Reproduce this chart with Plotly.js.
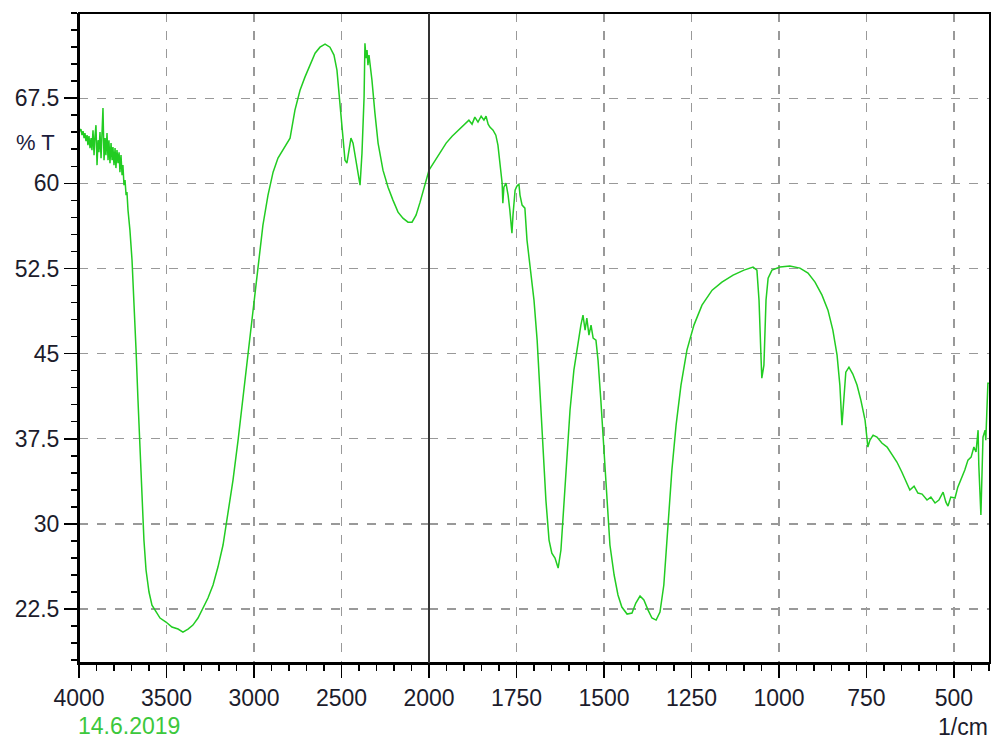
<!DOCTYPE html>
<html>
<head>
<meta charset="utf-8">
<script src="https://cdn.plot.ly/plotly-3.0.1.min.js"></script>
<style>html,body{margin:0;padding:0;background:#fff;}#chart{width:992px;height:739px;}</style>
</head>
<body>
<div id="chart"></div>
<script>
// High wavenumber segment (4000 - 2000 1/cm)
const wnHigh = [4000,3994,3989,3983,3977,3971,3966,3960,3954,3949,3943,3937,3931,3926,3920,3914,3909,3903,3897,3891,3886,3880,3874,3869,3863,3857,3851,3846,3840,3834,3829,3823,3817,3811,3806,3800,3794,3789,3783,3777,3771,3766,3760,3754,3749,3743,3737,3731,3726,3720,3709,3697,3686,3674,3663,3651,3640,3629,3617,3600,3583,3566,3537,3503,3469,3434,3406,3377,3349,3320,3291,3263,3234,3206,3177,3149,3120,3091,3063,3034,3006,2977,2949,2920,2891,2863,2829,2794,2766,2737,2709,2680,2651,2623,2594,2566,2543,2526,2509,2491,2480,2469,2457,2446,2434,2417,2406,2394,2383,2371,2366,2360,2354,2349,2343,2337,2326,2309,2291,2263,2234,2206,2177,2149,2120,2097,2074,2051,2029,2000];
const tHigh = [64.95,64.59,64.77,64.24,64.59,63.98,64.42,63.71,64.24,63.36,64.15,63.1,63.98,62.92,64.68,62.48,64.07,65.12,61.6,63.8,62.74,64.51,62.22,63.8,66.62,62.04,63.98,62.48,64.42,62.04,63.8,61.78,63.54,62.04,63.19,61.6,63.1,61.34,62.92,61.78,62.74,60.98,62.48,60.72,61.6,59.84,60.28,58.96,59.22,57.64,55.88,53.23,49.71,45.31,40.91,36.5,32.1,28.58,25.94,24.0,22.85,22.41,21.71,21.36,20.92,20.74,20.47,20.74,21.09,21.71,22.59,23.47,24.62,26.2,28.14,30.78,33.86,37.38,41.08,44.87,48.83,52.79,56.32,58.96,60.98,62.22,63.1,63.98,66.44,68.2,69.35,70.49,71.46,71.99,72.26,71.99,71.29,69.97,67.06,63.54,62.04,61.78,62.92,63.98,63.54,61.78,60.72,59.84,62.66,67.59,72.34,71.02,71.73,70.41,71.29,70.58,69.09,66.18,63.54,61.16,59.66,58.52,57.46,56.93,56.58,56.58,57.2,58.34,59.57,61.16];

// Low wavenumber segment (2000 - 400 1/cm)
const wnLow = [2000,1986,1969,1951,1934,1917,1900,1886,1877,1869,1860,1851,1843,1837,1831,1826,1817,1809,1803,1797,1791,1789,1786,1780,1774,1769,1763,1760,1754,1749,1743,1740,1734,1726,1720,1714,1709,1700,1691,1683,1674,1666,1657,1649,1640,1631,1623,1614,1606,1597,1586,1574,1566,1560,1554,1549,1543,1537,1531,1523,1517,1509,1500,1491,1483,1471,1460,1449,1434,1420,1409,1397,1386,1374,1363,1351,1340,1329,1317,1306,1294,1280,1263,1243,1220,1191,1163,1131,1100,1074,1063,1057,1051,1049,1043,1037,1031,1020,997,969,940,917,897,877,860,846,834,826,820,814,809,800,789,777,766,754,746,740,731,720,706,691,677,663,649,637,626,614,603,591,577,566,554,543,531,523,517,509,497,489,480,469,460,451,443,437,431,429,423,420,417,411,409,403,400];
const tLow = [61.16,61.86,62.74,63.54,64.15,64.68,65.12,65.56,65.21,65.83,65.39,65.91,65.56,65.91,65.21,64.95,64.68,64.24,63.36,61.6,60.01,58.25,59.66,60.01,58.96,57.64,55.61,57.2,59.4,59.75,59.93,58.96,58.08,57.81,55.0,53.41,51.91,49.71,46.19,41.79,36.94,32.1,28.58,27.43,27.0,26.11,27.7,31.66,36.06,40.03,43.55,46.01,47.51,48.39,47.07,48.13,46.63,47.51,46.37,46.19,44.43,40.91,36.5,31.66,28.14,25.5,23.74,22.68,22.06,22.15,23.03,23.65,23.3,22.41,21.71,21.53,22.24,24.62,29.46,34.74,38.7,42.23,45.31,47.51,49.27,50.59,51.3,51.91,52.35,52.62,52.35,49.71,44.43,42.84,43.99,49.71,51.65,52.35,52.62,52.71,52.53,52.09,51.3,50.15,48.83,47.07,44.87,42.23,38.7,40.91,43.37,43.81,43.2,42.23,40.91,39.14,36.77,37.38,37.82,37.65,37.12,36.77,36.06,35.45,34.57,33.68,32.98,33.33,32.72,32.63,32.1,32.36,31.84,32.1,32.8,31.92,31.57,32.36,32.28,33.24,33.86,34.74,35.62,35.88,36.77,36.33,38.26,35.18,30.78,34.74,37.65,38.26,37.38,42.4,42.4];

const xTicksHigh = [4000,3500,3000,2500];
const xTicksLow = [2000,1750,1500,1250,1000,750,500];
const yTicks = [22.5,30,37.5,45,52.5,60,67.5];
const yTickText = ['22.5','30','37.5','45','52.5','60','67.5'];

const FONT = 'Liberation Sans, Arial, sans-serif';
const tickFont = {family: FONT, size: 23, color: '#1c1c2c'};
const lineColor = '#22cc22';

const traces = [
  {x: wnHigh, y: tHigh, xaxis: 'x', yaxis: 'y', type: 'scatter', mode: 'lines',
   line: {color: lineColor, width: 1.5}, hoverinfo: 'x+y'},
  {x: wnLow, y: tLow, xaxis: 'x2', yaxis: 'y', type: 'scatter', mode: 'lines',
   line: {color: lineColor, width: 1.5}, hoverinfo: 'x+y'}
];

const split = 350/911;
const xCommon = {
  ticks: 'outside', ticklen: 13, tickwidth: 1.5, tickcolor: '#000',
  showline: true, linecolor: '#000', linewidth: 2,
  showgrid: true, gridcolor: '#999', griddash: 'dash', gridwidth: 1.2,
  zeroline: false, tickfont: tickFont, anchor: 'y', fixedrange: true
};

const layout = {
  width: 992, height: 739,
  margin: {l: 79, r: 2, t: 13, b: 76, pad: 0},
  paper_bgcolor: '#fff', plot_bgcolor: '#fff',
  showlegend: false,
  xaxis: Object.assign({}, xCommon, {
    domain: [0, split], range: [4000, 2000], tickmode: 'array', tickvals: xTicksHigh,
    minor: {ticks: 'outside', ticklen: 6, tickcolor: '#000', tickwidth: 1.5, tick0: 0, dtick: 100, showgrid: false}
  }),
  xaxis2: Object.assign({}, xCommon, {
    domain: [split, 1], range: [2000, 397], tickmode: 'array', tickvals: xTicksLow,
    minor: {ticks: 'outside', ticklen: 6, tickcolor: '#000', tickwidth: 1.5, tick0: 0, dtick: 50, showgrid: false}
  }),
  yaxis: {
    range: [17.75, 75], tickmode: 'array', tickvals: yTicks, ticktext: yTickText,
    ticks: 'outside', ticklen: 13, tickwidth: 1.5, tickcolor: '#000',
    showline: true, linecolor: '#000', linewidth: 2,
    showgrid: true, gridcolor: '#999', griddash: 'dash', gridwidth: 1.2,
    zeroline: false, tickfont: tickFont, anchor: 'x', fixedrange: true,
    minor: {ticks: 'outside', ticklen: 6, tickcolor: '#000', tickwidth: 1.5, tick0: 0, dtick: 1.5, showgrid: false}
  },
  shapes: [
    {type: 'rect', xref: 'paper', yref: 'paper', x0: 0, x1: 1, y0: 0, y1: 1,
     line: {color: '#000', width: 2}, layer: 'above'},
    {type: 'line', xref: 'paper', yref: 'paper', x0: split, x1: split, y0: 0, y1: 1,
     line: {color: '#333', width: 2}, layer: 'above'}
  ],
  annotations: [
    {text: '% T', xref: 'paper', yref: 'y', x: -0.048, y: 63.6, xanchor: 'center', yanchor: 'middle',
     showarrow: false, font: {family: FONT, size: 22, color: '#1c1c3c'}},
    {text: '14.6.2019', xref: 'paper', yref: 'paper', x: 0.0549, y: -0.097, xanchor: 'center', yanchor: 'middle',
     showarrow: false, font: {family: FONT, size: 23, color: '#3cc83c'}},
    {text: '1/cm', xref: 'paper', yref: 'paper', x: 0.970, y: -0.099, xanchor: 'center', yanchor: 'middle',
     showarrow: false, font: {family: FONT, size: 23, color: '#1c1c2c'}}
  ]
};

Plotly.newPlot('chart', traces, layout, {displayModeBar: false, staticPlot: true});
</script>
</body>
</html>
